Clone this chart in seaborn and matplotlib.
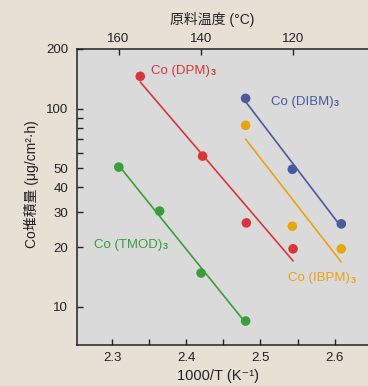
import numpy as np
import pandas as pd
import matplotlib
matplotlib.use("Agg")
import matplotlib.pyplot as plt
import seaborn as sns
from matplotlib.ticker import NullFormatter

# Deposition rate of Co precursors vs. inverse source temperature
compounds = ["TMOD", "DPM", "DIBM", "IBPM"]
inv_temp_tmod = [2.309, 2.364, 2.420, 2.480]
rate_tmod = [50.7, 30.4, 14.8, 8.47]
inv_temp_dpm = [2.338, 2.422, 2.481, 2.544]
rate_dpm = [145.6, 57.6, 26.5, 19.6]
inv_temp_dibm = [2.480, 2.543, 2.609]
rate_dibm = [112.7, 49.4, 26.2]
inv_temp_ibpm = [2.480, 2.543, 2.609]
rate_ibpm = [82.4, 25.5, 19.6]

x_ticks = [2.3, 2.4, 2.5, 2.6]
x_minor = [2.35, 2.45, 2.55]
y_ticks = [10, 20, 30, 40, 50, 100, 200]
y_minor = [60, 70, 80, 90]
top_ticks_c = [160, 140, 120]

colors = {"TMOD": "#3a9e3a", "DPM": "#d8363a", "DIBM": "#4a5a9e", "IBPM": "#e8a512"}
bg_outer = "#e6e0d5"
bg_inner = "#dadada"
ink = "#222222"

series = {
    "TMOD": (inv_temp_tmod, rate_tmod),
    "DPM": (inv_temp_dpm, rate_dpm),
    "DIBM": (inv_temp_dibm, rate_dibm),
    "IBPM": (inv_temp_ibpm, rate_ibpm),
}

points = pd.concat(
    [pd.DataFrame({"x": xs, "rate": ys, "compound": name}) for name, (xs, ys) in series.items()],
    ignore_index=True,
)

# Arrhenius-type least squares fit of log10(rate) over each data range
fit_rows = []
for name, (xs, ys) in series.items():
    slope, icpt = np.polyfit(xs, np.log10(ys), 1)
    for xv in (min(xs), max(xs)):
        fit_rows.append({"x": xv, "rate": 10 ** (slope * xv + icpt), "compound": name})
fits = pd.DataFrame(fit_rows)

sns.set_theme(style="ticks")
plt.rcParams["font.family"] = ["Liberation Sans", "Noto Sans CJK JP", "DejaVu Sans"]
plt.rcParams["axes.unicode_minus"] = False

fig = plt.figure(figsize=(3.68, 3.86), dpi=100, facecolor=bg_outer)
ax = fig.add_axes([76.5 / 368, 41 / 386, 291.5 / 368, 296 / 386])
ax.set_facecolor(bg_inner)

sns.lineplot(data=fits, x="x", y="rate", hue="compound", palette=colors,
             estimator=None, units="compound", sort=True, lw=1.2, legend=False, ax=ax)
sns.scatterplot(data=points, x="x", y="rate", hue="compound", palette=colors,
                s=48, edgecolor="none", legend=False, ax=ax, zorder=3)

ax.set_yscale("log")
ax.set_xlim(2.252, 2.645)
ax.set_ylim(6.41, 200)

ax.set_xticks(x_ticks)
ax.set_xticklabels([f"{v:.1f}" for v in x_ticks])
ax.set_xticks(x_minor, minor=True)
ax.set_yticks(y_ticks)
ax.set_yticklabels([str(v) for v in y_ticks])
ax.set_yticks(y_minor, minor=True)
ax.yaxis.set_minor_formatter(NullFormatter())

for side in ("left", "bottom", "top"):
    ax.spines[side].set_color(ink)
    ax.spines[side].set_linewidth(1.1)
ax.spines["right"].set_visible(False)

ax.tick_params(which="both", direction="in", length=4.5, width=1.0, color=ink,
               labelsize=9.5, labelcolor=ink, top=False, right=False)
ax.tick_params(axis="x", which="both", pad=5)
ax.tick_params(axis="y", which="both", pad=6)

ax.set_xlabel("1000/T (K⁻¹)", fontsize=10.5, color=ink)
ax.xaxis.set_label_coords(0.486, -0.081)
ax.set_ylabel("Co堆積量 (μg/cm²·h)", fontsize=10, color=ink)
ax.yaxis.set_label_coords(-0.128, 0.544)

# Source temperature in degrees Celsius on the top axis
to_c = lambda v: 1000.0 / np.asarray(v, dtype=float) - 273.15
to_inv = lambda c: 1000.0 / (np.asarray(c, dtype=float) + 273.15)
top = ax.secondary_xaxis("top", functions=(to_c, to_inv))
top.set_xticks(top_ticks_c)
top.set_xticklabels([str(v) for v in top_ticks_c])
top.tick_params(direction="in", length=4.5, width=1.0, color=ink,
                labelsize=9.5, labelcolor=ink, pad=3)
top.spines["top"].set_visible(False)
top.set_xlabel("原料温度 (°C)", fontsize=10, color=ink)
top.xaxis.set_label_coords(0.464, 1.085, transform=ax.transAxes)

label_pos = {"DPM": (0.2545, 0.9267), "DIBM": (0.6662, 0.822),
             "TMOD": (0.060, 0.3389), "IBPM": (0.7266, 0.2253)}
for name, (fx, fy) in label_pos.items():
    t = ax.text(fx, fy, f"Co ({name})", transform=ax.transAxes, ha="left", va="center",
                fontsize=9.5, color=colors[name])
    ax.annotate("3", xy=(1.0, 0.0), xycoords=t, xytext=(0.6, -0.5),
                textcoords="offset points", ha="left", va="bottom",
                fontsize=6.5, fontweight="bold", color=colors[name])

fig.savefig("out.png", dpi=100, facecolor=bg_outer)
